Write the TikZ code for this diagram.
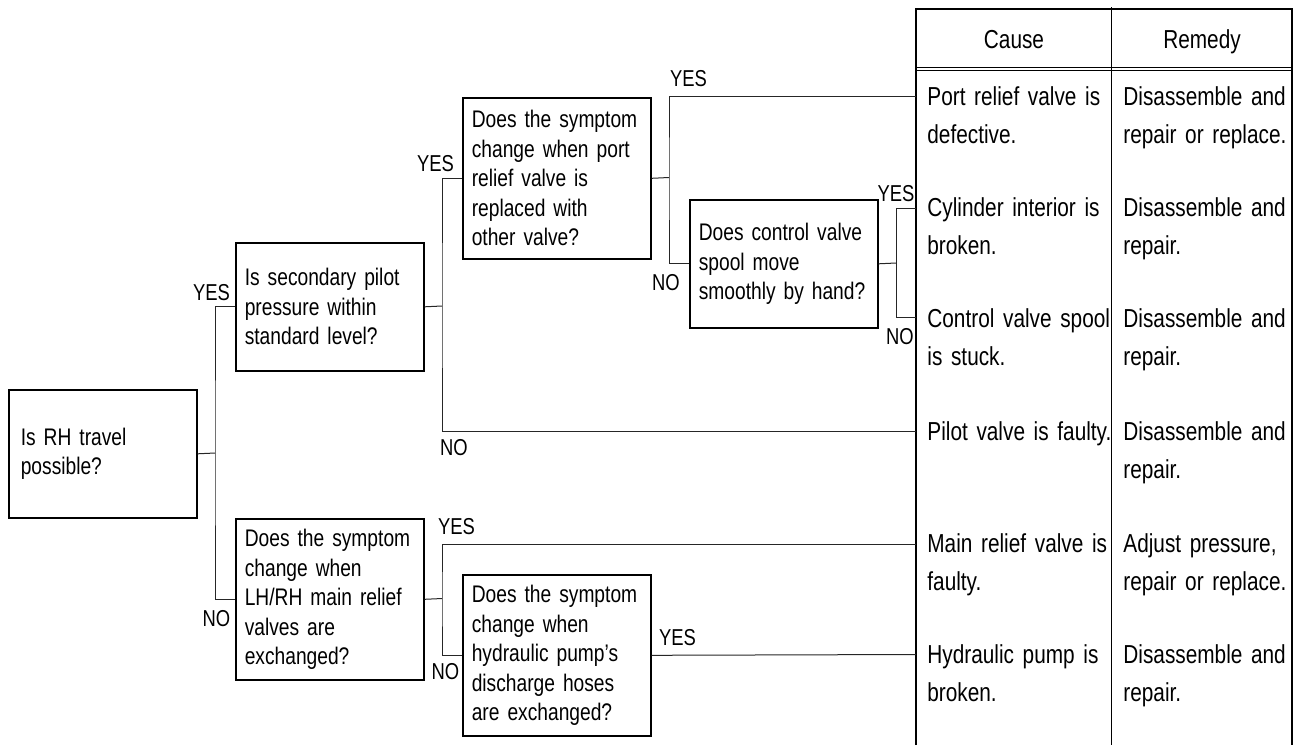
\documentclass[tikz,border=0pt]{standalone}
\usepackage{fontspec}
\setmainfont{Liberation Sans}[FakeStretch=0.8, WordSpace=0.6]
\tikzset{
  qbox/.style={draw, line width=0.8pt, anchor=north west, text width=85pt, inner xsep=4.5pt, align=left, font=\fontsize{12}{14.75}\selectfont, execute at begin node={\hyphenpenalty=10000}},
  ans/.style={inner sep=0pt, font=\fontsize{11.5}{12}\selectfont},
  cell/.style={anchor=base west, inner sep=0pt, text width=95pt, align=left, font=\fontsize{13}{19}\selectfont},
  head/.style={anchor=base, inner sep=0pt, font=\fontsize{13}{19}\selectfont},
  wire/.style={line width=0.5pt, black!85},
}
\begin{document}
\begin{tikzpicture}[x=0.5pt, y=-0.5pt]
\useasboundingbox (0,0) rectangle (1306,745);
\node[qbox, minimum height=64pt, text width=82pt, inner xsep=6pt] (travel) at (8,389) {Is RH travel\\possible?};
\node[qbox, minimum height=64pt] (pilot) at (235,242) {Is secondary pilot\\pressure within\\standard level?};
\node[qbox, minimum height=80.5pt] (port) at (462,97) {Does the symptom\\change when port\\relief valve is\\replaced with\\other valve?};
\node[qbox, minimum height=64pt] (spool) at (689,199) {Does control valve\\spool move\\smoothly by hand?};
\node[qbox, minimum height=80.5pt] (mainrv) at (235,518) {Does the symptom\\change when\\LH/RH main relief\\valves are\\exchanged?};
\node[qbox, minimum height=80.5pt] (pump) at (462,574) {Does the symptom\\change when\\hydraulic pump's\\discharge hoses\\are exchanged?};

\draw[line width=1pt] (916,745) -- (916,9) -- (1292,9) -- (1292,745);
\draw[line width=0.5pt] (1111,7) -- (1111,745);
\draw[line width=0.5pt] (916,67) -- (1292,67) (916,70) -- (1292,70);
\node[head] (cause) at (1014,48) {Cause};
\node[head] (remedy) at (1202,48) {Remedy};

\node[cell] (c1) at (927,105) {Port relief valve is\\defective.};
\node[cell] (m1) at (1123,105) {Disassemble and\\repair or replace.};
\node[cell] (c2) at (927,216) {Cylinder interior is\\broken.};
\node[cell] (m2) at (1123,216) {Disassemble and\\repair.};
\node[cell] (c3) at (927,327) {Control valve spool\\is stuck.};
\node[cell] (m3) at (1123,327) {Disassemble and\\repair.};
\node[cell] (c4) at (927,440) {Pilot valve is faulty.};
\node[cell] (m4) at (1123,440) {Disassemble and\\repair.};
\node[cell] (c5) at (927,552) {Main relief valve is\\faulty.};
\node[cell] (m5) at (1123,552) {Adjust pressure,\\repair or replace.};
\node[cell] (c6) at (927,663) {Hydraulic pump is\\broken.};
\node[cell] (m6) at (1123,663) {Disassemble and\\repair.};

\coordinate (e1) at (916,96);
\coordinate (e2) at (916,208);
\coordinate (e3) at (916,317);
\coordinate (e4) at (916,431);
\coordinate (e5) at (916,544);
\coordinate (e6) at (916,654.5);
\coordinate (j1) at (215,453);
\coordinate (j2) at (442,306);
\coordinate (j3) at (669,177.5);
\coordinate (j4) at (896,263);
\coordinate (j5) at (442,598.5);

\draw[wire] (travel.east) -- (j1);
\draw[wire] (pilot.west) -| (j1) |- (mainrv.west);
\draw[wire] (pilot.east) -- (j2);
\draw[wire] (port.west) -| (j2) |- (e4);
\draw[wire] (port.east) -- (j3);
\draw[wire] (e1) -| (j3) |- (spool.west);
\draw[wire] (spool.east) -- (j4);
\draw[wire] (e2) -| (j4) |- (e3);
\draw[wire] (mainrv.east) -- (j5);
\draw[wire] (e5) -| (j5) |- (pump.west);
\draw[wire] (pump.east) -- (e6);

\node[ans] (ypilot) at (211.5,293) {YES};
\node[ans] (yport) at (435.5,164) {YES};
\node[ans] (yc1) at (688.5,79) {YES};
\node[ans] (nspool) at (666,283) {NO};
\node[ans] (yc2) at (896,194) {YES};
\node[ans] (nc3) at (900,337) {NO};
\node[ans] (nc4) at (454,448) {NO};
\node[ans] (nmainrv) at (216.5,619) {NO};
\node[ans] (yc5) at (456.5,527) {YES};
\node[ans] (npump) at (445.5,672) {NO};
\node[ans] (yc6) at (677.5,638) {YES};
\end{tikzpicture}
\end{document}
